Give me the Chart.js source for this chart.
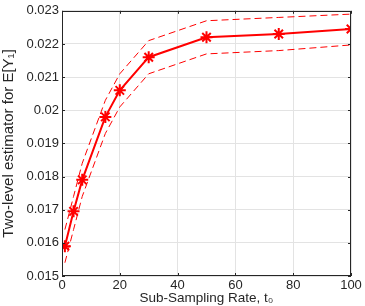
<!DOCTYPE html>
<html>
<head>
<meta charset="utf-8">
<script src="https://cdn.jsdelivr.net/npm/chart.js@4.4.0/dist/chart.umd.min.js"></script>
<style>
  html, body { margin: 0; padding: 0; background: #fff; }
  #wrap { width: 365px; height: 306px; }
</style>
</head>
<body>
<div id="wrap"><canvas id="myChart" width="365" height="306"></canvas></div>
<script>
const rates = [1, 4, 7, 15, 20, 30, 50, 75, 100];
const estimate = [0.0159, 0.01695, 0.0179, 0.0198, 0.0206, 0.0216, 0.0222, 0.0223, 0.02245];
const upper = [0.0164, 0.0174, 0.0184, 0.0203, 0.0211, 0.0221, 0.0227, 0.0228, 0.0229];
const lower = [0.0154, 0.0164, 0.0174, 0.0193, 0.0201, 0.0211, 0.0217, 0.0218, 0.02197];
const xTicks = [0, 20, 40, 60, 80, 100];
const yTicks = [0.015, 0.016, 0.017, 0.018, 0.019, 0.02, 0.021, 0.022, 0.023];

const axisColor = "#262626";
const gridColor = "#e3e3e3";
const font = "'Liberation Sans', Arial, sans-serif";

const toPoints = function (ys) {
  return rates.map((r, i) => ({ x: r, y: ys[i] }));
};

// box round the axes with MATLAB-style inward ticks
const boxPlugin = {
  id: "box",
  afterDraw(chart) {
    const { ctx, chartArea: a, scales } = chart;
    ctx.save();
    ctx.strokeStyle = axisColor;
    ctx.lineWidth = 1;
    ctx.strokeRect(Math.round(a.left) + 0.5, Math.round(a.top) + 0.5,
      Math.round(a.right - a.left) - 1, Math.round(a.bottom - a.top) - 1);
    ctx.beginPath();
    xTicks.forEach((t) => {
      const px = Math.round(scales.x.getPixelForValue(t)) + 0.5;
      ctx.moveTo(px, a.bottom); ctx.lineTo(px, a.bottom - 3);
      ctx.moveTo(px, a.top); ctx.lineTo(px, a.top + 3);
    });
    yTicks.forEach((t) => {
      const py = Math.round(scales.y.getPixelForValue(t)) + 0.5;
      ctx.moveTo(a.left, py); ctx.lineTo(a.left + 3, py);
      ctx.moveTo(a.right, py); ctx.lineTo(a.right - 3, py);
    });
    ctx.stroke();
    ctx.restore();
  },
};

new Chart(document.getElementById("myChart"), {
  type: "line",
  plugins: [boxPlugin],
  data: {
    datasets: [
      {
        data: toPoints(upper),
        borderColor: "#ff0000",
        borderWidth: 1,
        borderDash: [7, 4],
        pointRadius: 0,
        fill: false,
      },
      {
        data: toPoints(lower),
        borderColor: "#ff0000",
        borderWidth: 1,
        borderDash: [7, 4],
        pointRadius: 0,
        fill: false,
      },
      {
        data: toPoints(estimate),
        borderColor: "#ff0000",
        borderWidth: 2,
        pointStyle: "star",
        pointRadius: 6,
        pointBorderWidth: 2,
        pointBorderColor: "#ff0000",
        pointBackgroundColor: "#ff0000",
        fill: false,
      },
    ],
  },
  options: {
    responsive: false,
    animation: false,
    layout: { padding: { top: 10, right: 14, left: 0, bottom: 0 } },
    plugins: { legend: { display: false }, tooltip: { enabled: false } },
    scales: {
      x: {
        type: "linear",
        min: 0,
        max: 100,
        afterBuildTicks: (s) => { s.ticks = xTicks.map((v) => ({ value: v })); },
        afterFit: (s) => { s.height = 30; },
        grid: { color: gridColor, drawTicks: false },
        border: { display: false },
        ticks: { color: axisColor, padding: 2, font: { family: font, size: 13 } },
        title: {
          display: true,
          text: "Sub-Sampling Rate, t\u2080",
          color: axisColor,
          padding: { top: 0, bottom: 0 },
          font: { family: font, size: 13.5 },
        },
      },
      y: {
        min: 0.015,
        max: 0.023,
        afterBuildTicks: (s) => { s.ticks = yTicks.map((v) => ({ value: v })); },
        afterFit: (s) => { s.width = 62; },
        grid: { color: gridColor, drawTicks: false },
        border: { display: false },
        ticks: {
          color: axisColor,
          padding: 3,
          font: { family: font, size: 13 },
          callback: (v) => String(Number(v.toFixed(3))),
        },
        title: {
          display: true,
          text: "Two-level estimator for E[Y\u2081]",
          color: axisColor,
          padding: { top: 0, bottom: 2 },
          font: { family: font, size: 15 },
        },
      },
    },
  },
});
</script>
</body>
</html>
